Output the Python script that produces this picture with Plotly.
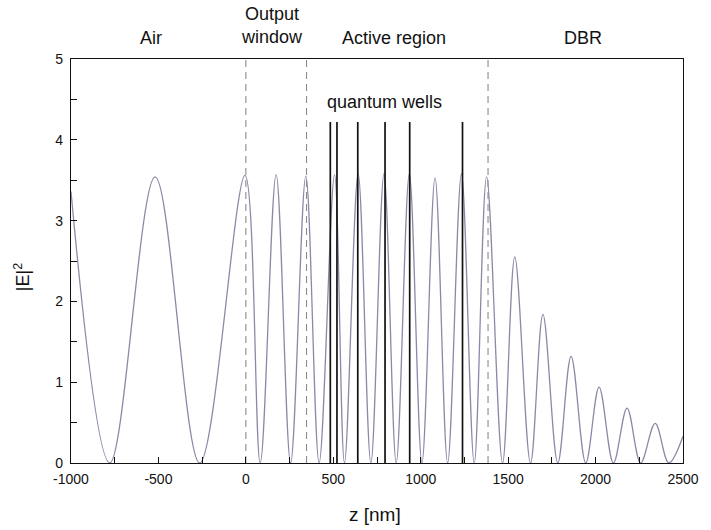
import plotly.graph_objects as go

# |E|^2 standing-wave profile: nodes (zeros) and antinode maxima along z
z_nm = [-1000, -778, -519, -264, -5, 82, 173, 256, 343, 419, 507, 564, 642,
        715, 790, 860, 935, 1007, 1082, 1154, 1233, 1306, 1377, 1468, 1538,
        1628, 1699, 1784, 1860, 1944, 2020, 2102, 2180, 2258, 2341, 2419, 2500]
e2 = [3.36, 0, 3.54, 0, 3.56, 0, 3.57, 0, 3.55, 0, 3.57, 0, 3.58,
      0, 3.58, 0, 3.58, 0, 3.53, 0, 3.58, 0, 3.54, 0, 2.55,
      0, 1.84, 0, 1.32, 0, 0.94, 0, 0.68, 0, 0.49, 0, 0.33]

# layer boundaries (dashed) and quantum well positions
boundaries = [0, 347, 1385]
qw_positions = [483, 521, 640, 796, 937, 1239]
qw_height = 4.22

# region labels above the frame
region_names = ["Air", "Output<br>window", "Active region", "DBR"]
region_centers = [-540, 150, 850, 1929]
region_y = [1.052, 1.082, 1.052, 1.052]

x_ticks = [-1000, -500, 0, 500, 1000, 1500, 2000, 2500]
y_ticks = [0, 1, 2, 3, 4, 5]

FONT = "Liberation Sans, Arial, Helvetica, sans-serif"
INK = "#111111"

fig = go.Figure()

fig.add_trace(go.Scatter(
    x=z_nm, y=e2, mode="lines",
    line=dict(color="#8a8aa8", width=1.3, shape="spline", smoothing=1.0),
    hoverinfo="skip", showlegend=False,
))

for b in boundaries:
    fig.add_trace(go.Scatter(
        x=[b, b], y=[0, 5], mode="lines",
        line=dict(color="#8c8c8c", width=1.1, dash="7px,5px"),
        hoverinfo="skip", showlegend=False,
    ))

for q in qw_positions:
    fig.add_trace(go.Scatter(
        x=[q, q], y=[0, qw_height], mode="lines",
        line=dict(color=INK, width=1.7),
        hoverinfo="skip", showlegend=False,
    ))

for name, xc, yc in zip(region_names, region_centers, region_y):
    fig.add_annotation(
        x=xc, y=yc, xref="x", yref="paper", text=name, showarrow=False,
        xanchor="center", yanchor="middle",
        font=dict(family=FONT, size=18, color=INK),
    )

fig.add_annotation(
    x=794, y=4.47, xref="x", yref="y", text="quantum wells", showarrow=False,
    xanchor="center", yanchor="middle",
    font=dict(family=FONT, size=18, color=INK),
)

# axis titles
fig.add_annotation(
    x=0.496, y=-0.128, xref="paper", yref="paper", text="z [nm]",
    showarrow=False, xanchor="center", yanchor="middle",
    font=dict(family=FONT, size=19, color=INK),
)
fig.add_annotation(
    x=-0.08, y=0.46, xref="paper", yref="paper", text="|E|<sup>2</sup>",
    showarrow=False, xanchor="center", yanchor="middle", textangle=-90,
    font=dict(family=FONT, size=18, color=INK),
)

axis_common = dict(
    showgrid=False, zeroline=False, showline=True, linecolor=INK,
    linewidth=1.4, mirror=True, ticks="inside", ticklen=6, tickwidth=1.2,
    tickcolor=INK, tickfont=dict(family=FONT, size=14, color=INK),
)

fig.update_xaxes(
    range=[-1000, 2500], tickvals=x_ticks,
    ticktext=[str(v) for v in x_ticks], ticklabelstandoff=3,
    minor=dict(ticks="inside", ticklen=6, tickwidth=1.2, tickcolor=INK,
               dtick=250, tick0=-1000),
    **axis_common,
)
fig.update_yaxes(
    range=[0, 5], tickvals=y_ticks, ticktext=[str(v) for v in y_ticks],
    ticklabelstandoff=4,
    minor=dict(ticks="inside", ticklen=6, tickwidth=1.2, tickcolor=INK,
               dtick=0.5, tick0=0),
    **axis_common,
)

fig.update_layout(
    width=711, height=530,
    margin=dict(l=71, r=19, t=59, b=67),
    paper_bgcolor="white", plot_bgcolor="white",
)

fig.write_html("out.html")
